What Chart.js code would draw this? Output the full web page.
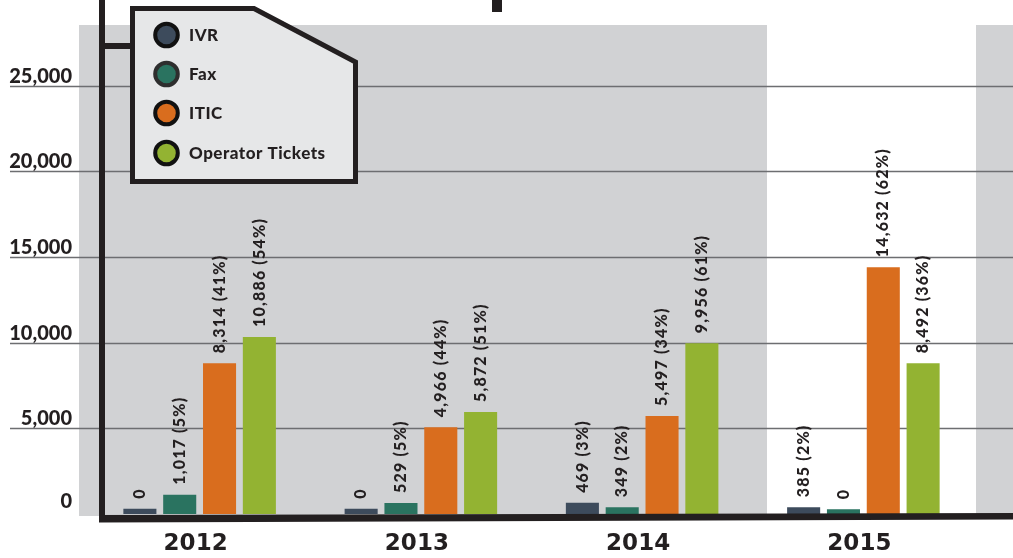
<!DOCTYPE html>
<html>
<head>
<meta charset="utf-8">
<script src="https://cdn.jsdelivr.net/npm/chart.js@4.4.1/dist/chart.umd.min.js"></script>
<style>
    html, body { margin: 0; padding: 0; background: #fff; overflow: hidden; }
    canvas { display: block; }
</style>
</head>
<body>
<canvas id="chart" width="1013" height="558"></canvas>
<script>
const years = ['2012', '2013', '2014', '2015'];
const seriesNames = ['IVR', 'Fax', 'ITIC', 'Operator Tickets'];
const seriesColors = ['#3d4b5c', '#2a7360', '#d96d1e', '#93b332'];

// bar heights as drawn in the picture
const ivr = [300, 300, 650, 400];
const fax = [1120, 640, 400, 280];
const itic = [8800, 5070, 5720, 14400];
const operatorTickets = [10330, 5950, 9960, 8800];

// value labels printed above the bars
const ivrLabels = ['0', '0', '469 (3%)', '385 (2%)'];
const faxLabels = ['1,017 (5%)', '529 (5%)', '349 (2%)', '0'];
const iticLabels = ['8,314 (41%)', '4,966 (44%)', '5,497 (34%)', '14,632 (62%)'];
const operatorLabels = ['10,886 (54%)', '5,872 (51%)', '9,956 (61%)', '8,492 (36%)'];

const yTicks = [0, 5000, 10000, 15000, 20000, 25000];

const ink = '#231f20';
const panelGray = '#d1d2d4';

const backdrop = {
    id: 'backdrop',
    beforeDatasetsDraw(chart) {
        const ctx = chart.ctx;
        const y = chart.scales.y;
        const W = chart.width;
        ctx.save();
        ctx.fillStyle = panelGray;
        ctx.fillRect(79, 25, 767 - 79, 516 - 25);
        ctx.fillRect(976, 25, W - 976, 516 - 25);

        ctx.strokeStyle = '#6d6e71';
        ctx.lineWidth = 1.4;
        yTicks.forEach(v => {
            if (v === 0) return;
            const py = Math.round(y.getPixelForValue(v)) + 0.5;
            ctx.beginPath();
            ctx.moveTo(10, py);
            ctx.lineTo(W, py);
            ctx.stroke();
        });

        ctx.fillStyle = ink;
        ctx.font = '900 20px Lato';
        ctx.textAlign = 'right';
        ctx.textBaseline = 'alphabetic';
        yTicks.forEach(v => {
            const py = y.getPixelForValue(v);
            ctx.fillText(v.toLocaleString('en-US'), 72, py - (v === 0 ? 6 : 3));
        });
        ctx.restore();
    }
};

const overlay = {
    id: 'overlay',
    afterDatasetsDraw(chart) {
        const ctx = chart.ctx;
        const W = chart.width;
        const labelSets = [ivrLabels, faxLabels, iticLabels, operatorLabels];
        ctx.save();

        // value labels, rotated
        ctx.fillStyle = ink;
        ctx.font = '900 16px Lato';
        ctx.letterSpacing = '1.2px';
        ctx.textAlign = 'left';
        ctx.textBaseline = 'middle';
        chart.data.datasets.forEach((ds, di) => {
            chart.getDatasetMeta(di).data.forEach((bar, i) => {
                ctx.save();
                ctx.translate(bar.x, bar.y - 10);
                ctx.rotate(-Math.PI / 2);
                ctx.fillText(labelSets[di][i], 0, 0);
                ctx.restore();
            });
        });
        ctx.letterSpacing = '0px';

        // axes
        ctx.fillStyle = ink;
        ctx.beginPath();
        ctx.moveTo(99, 515);
        ctx.lineTo(W, 513);
        ctx.lineTo(W, 519.5);
        ctx.lineTo(99, 522.5);
        ctx.closePath();
        ctx.fill();
        ctx.fillRect(99, 0, 6, 522);
        ctx.fillRect(492, 0, 10, 12);

        // year labels
        ctx.font = 'bold 23px "DejaVu Sans"';
        ctx.textAlign = 'center';
        ctx.textBaseline = 'middle';
        const x = chart.scales.x;
        years.forEach((yr, i) => {
            ctx.fillText(yr, x.getPixelForValue(i) - 4, 544);
        });

        // legend box
        ctx.fillRect(105, 43, 27, 6);
        ctx.beginPath();
        ctx.moveTo(132.5, 8.5);
        ctx.lineTo(254, 8.5);
        ctx.lineTo(355.5, 62);
        ctx.lineTo(355.5, 181.5);
        ctx.lineTo(132.5, 181.5);
        ctx.closePath();
        ctx.fillStyle = '#e6e7e8';
        ctx.fill();
        ctx.lineWidth = 5;
        ctx.lineJoin = 'miter';
        ctx.strokeStyle = ink;
        ctx.stroke();

        const rowsY = [35, 74, 113, 153];
        ctx.font = '900 17px Lato';
        ctx.letterSpacing = '0.5px';
        ctx.textAlign = 'left';
        seriesNames.forEach((name, i) => {
            ctx.beginPath();
            ctx.arc(166.5, rowsY[i], 11.3, 0, Math.PI * 2);
            ctx.fillStyle = seriesColors[i];
            ctx.fill();
            ctx.lineWidth = 4;
            ctx.strokeStyle = i === 1 ? '#2e2e2e' : '#111';
            ctx.stroke();
            ctx.fillStyle = ink;
            ctx.fillText(name, 189, rowsY[i] + 1);
        });
        ctx.restore();
    }
};

new Chart(document.getElementById('chart'), {
    type: 'bar',
    data: {
        labels: years,
        datasets: [ivr, fax, itic, operatorTickets].map((vals, i) => ({
            label: seriesNames[i],
            data: vals,
            backgroundColor: seriesColors[i],
            borderWidth: 0,
            categoryPercentage: 0.72,
            barPercentage: 0.83,
        }))
    },
    options: {
        responsive: false,
        animation: false,
        layout: { padding: { left: 89, right: 39, top: 0, bottom: 44 } },
        plugins: { legend: { display: false }, tooltip: { enabled: false } },
        scales: {
            x: { display: false },
            y: { display: false, min: 0, max: 30000 }
        }
    },
    plugins: [backdrop, overlay]
});
</script>
</body>
</html>
